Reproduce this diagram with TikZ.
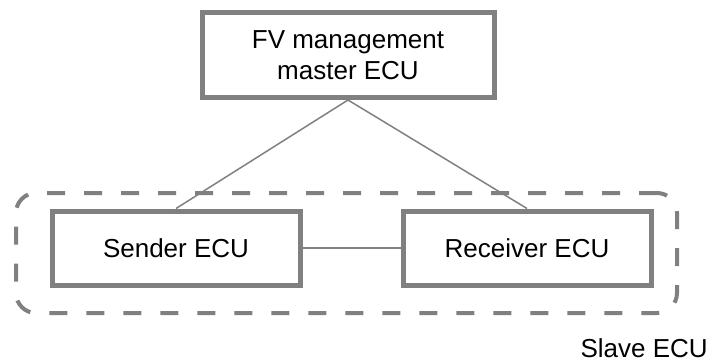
\documentclass[tikz,border=0pt]{standalone}
\usepackage{fontspec}
\setmainfont{Liberation Sans}
\usepackage{xcolor}
\usetikzlibrary{positioning}

\definecolor{boxgray}{HTML}{808080}

\begin{document}
\begin{tikzpicture}[x=1pt,y=-1pt,-,semithick,font=\fontsize{26}{31}\selectfont]
						\tikzstyle{ecu}=[draw=boxgray, line width=5pt, fill=white, minimum width=248pt, minimum height=74pt, inner sep=0pt]
						\tikzstyle{slavebox}=[draw=boxgray, line width=4pt, dash pattern=on 18pt off 19pt, rounded corners=20pt, minimum width=661pt, minimum height=120pt, inner sep=0pt]
						\tikzstyle{link}=[boxgray, line width=1.5pt]
						\useasboundingbox (0,0) rectangle (713,364);

						\node[slavebox] 		(slave) at (346.5,253)   	{};
						\node[ecu, minimum width=292pt, minimum height=85pt, align=center] 	(master) at (348,55)  {FV management\\master ECU};
 					 	\node[ecu] 			(sender) at (176,248)          {Sender ECU};
						\node[ecu] 			(receiver) [right=98pt of sender]   {Receiver ECU};
						\node[anchor=base east, inner sep=0pt] (slavelbl) at (708,357) {Slave ECU};

						\path
							(master.south) edge [link] (sender.north)
							(master.south) edge [link] (receiver.north)
							(sender.east) edge [link] (receiver.west);
				\end{tikzpicture}
\end{document}
